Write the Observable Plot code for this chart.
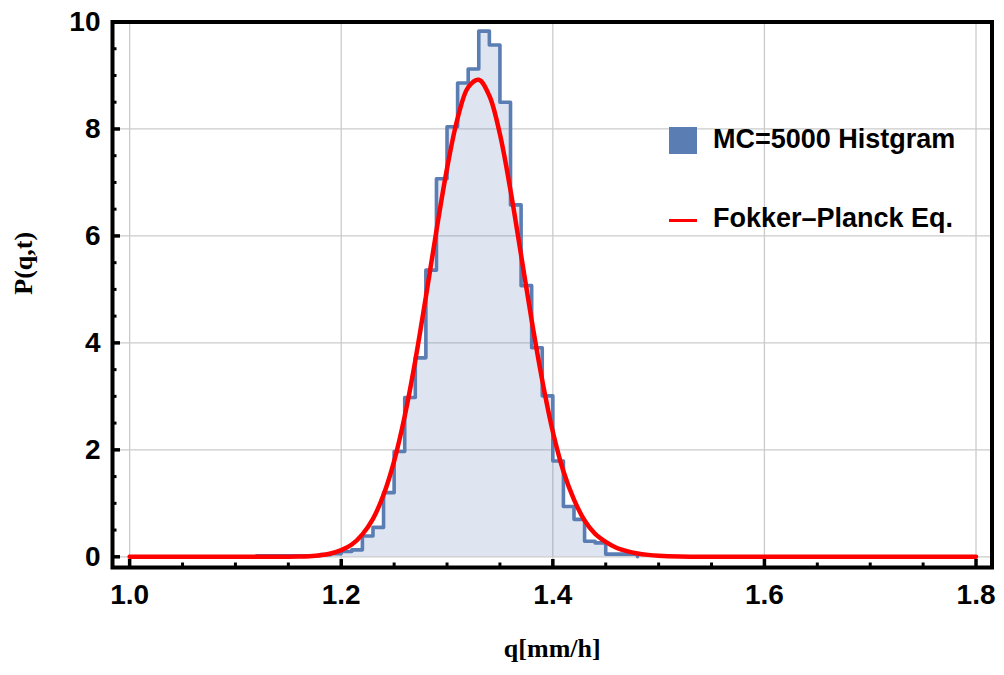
<!DOCTYPE html>
<html>
<head>
<meta charset="utf-8">
<script src="https://cdn.jsdelivr.net/npm/d3@7"></script>
<script src="https://cdn.jsdelivr.net/npm/@observablehq/plot@0.6"></script>
<style>
html, body { margin: 0; padding: 0; background: #fff; }
#wrap { position: relative; width: 1004px; height: 675px; }
.leg { position: absolute; font-family: "Liberation Sans", Arial, sans-serif; font-weight: bold; font-size: 27px; color: #000; white-space: nowrap; line-height: 1; }
.sw { position: absolute; }
</style>
</head>
<body>
<div id="wrap"></div>
<script>
// Histogram (MC=5000), bin edges and densities
const binEdges = [1.12,1.13,1.14,1.15,1.16,1.17,1.18,1.19,1.20,1.21,1.22,1.23,1.24,1.25,1.26,1.27,1.28,1.29,1.30,
  1.31,1.32,1.33,1.34,1.35,1.36,1.37,1.38,1.39,1.40,1.41,1.42,1.43,1.44,1.45,1.46,1.47,1.48];
const binDensity = [0.02,0.02,0.02,0.02,0.02,0.02,0.04,0.06,0.10,0.13,0.39,0.55,1.20,1.97,2.98,3.72,5.36,7.07,
  8.04,8.86,9.12,9.83,9.57,8.50,6.58,5.07,3.91,3.01,1.79,0.94,0.70,0.29,0.26,0.05,0.05,0.05];

// Fokker-Planck curve
const curveQ = [1.00,1.05,1.10,1.13,1.15,1.16,1.17,1.18,1.19,1.20,1.21,1.22,1.23,1.24,1.25,1.26,1.27,1.28,1.29,1.30,
  1.31,1.32,1.33,1.34,1.35,1.36,1.37,1.38,1.39,1.40,1.41,1.42,1.43,1.44,1.45,1.46,1.47,1.48,1.49,1.50,1.52,1.55,1.60,1.70,1.80];
const curveP = [0,0,0,0.0005,0.002,0.005,0.012,0.028,0.062,0.125,0.23,0.42,0.71,1.16,1.79,2.63,3.67,4.86,6.10,7.26,
  8.20,8.78,8.92,8.62,7.90,6.85,5.64,4.42,3.30,2.34,1.60,1.07,0.68,0.43,0.28,0.17,0.105,0.062,0.036,0.02,0.006,0.001,0,0,0];

// Ticks
const xTicks = [1.0,1.2,1.4,1.6,1.8];
const xMinor = [1.05,1.10,1.15,1.25,1.30,1.35,1.45,1.50,1.55,1.65,1.70,1.75];
const yTicks = [0,2,4,6,8,10];
const yMinor = [0.5,1,1.5,2.5,3,3.5,4.5,5,5.5,6.5,7,7.5,8.5,9,9.5];

const xLabel = "q[mm/h]";
const yLabel = "P(q,t)";
const legendHist = "MC=5000 Histgram";
const legendCurve = "Fokker\u2013Planck Eq.";

// Build tables
const steps = [{q: binEdges[0], p: 0}];
binDensity.forEach((p, i) => steps.push({q: binEdges[i], p}));
steps.push({q: binEdges[binEdges.length - 1], p: 0});
const curve = curveQ.map((q, i) => ({q, p: curveP[i]}));

const histBlue = "#5a7db4";
const serif = "Liberation Serif, Times New Roman, serif";

const chart = Plot.plot({
  width: 1004,
  height: 675,
  marginLeft: 112,
  marginRight: 12.5,
  marginTop: 21.5,
  marginBottom: 108,
  style: {fontFamily: "Liberation Sans, Arial, sans-serif", background: "#fff"},
  x: {domain: [0.9838, 1.8151]},
  y: {domain: [-0.2, 10.0]},
  marks: [
    Plot.gridX(xTicks, {stroke: "#cbcbcb", strokeOpacity: 1, strokeWidth: 1.3}),
    Plot.gridY(yTicks, {stroke: "#cbcbcb", strokeOpacity: 1, strokeWidth: 1.3}),
    Plot.areaY(steps, {x: "q", y: "p", curve: "step-after", fill: histBlue, fillOpacity: 0.2}),
    Plot.lineY(steps, {x: "q", y: "p", curve: "step-after", stroke: histBlue, strokeWidth: 3.6}),
    Plot.line(curve, {x: "q", y: "p", curve: "catmull-rom", stroke: "#ff0000", strokeWidth: 4.5}),
    Plot.frame({stroke: "#000", strokeWidth: 4}),
    Plot.axisX(xTicks, {tickSize: 0, tickPadding: 17, fontSize: 28, fontWeight: "bold", tickFormat: d => d.toFixed(1), label: null}),
    Plot.axisX(xTicks, {tickSize: -8, strokeWidth: 3.5, fill: "none", label: null}),
    Plot.axisX(xMinor, {tickSize: -4.5, strokeWidth: 3, fill: "none", label: null}),
    Plot.axisY(yTicks, {tickSize: 0, tickPadding: 12, fontSize: 28, fontWeight: "bold", tickFormat: d => String(d), label: null}),
    Plot.axisY(yTicks, {tickSize: -8, strokeWidth: 3.5, fill: "none", label: null}),
    Plot.axisY(yMinor, {tickSize: -4.5, strokeWidth: 3, fill: "none", label: null}),
    Plot.text([yLabel], {frameAnchor: "left", dx: -89, rotate: -90, fontFamily: serif, fontWeight: "bold", fontSize: 26, fill: "#000"}),
    Plot.text([xLabel], {frameAnchor: "bottom", dy: 89, fontFamily: serif, fontWeight: "bold", fontSize: 26, fill: "#000"})
  ]
});

const wrap = document.getElementById("wrap");
wrap.appendChild(chart);

// Legend inside plot
function add(html) { const d = document.createElement("div"); d.innerHTML = html; wrap.appendChild(d.firstChild); }
add(`<div class="sw" style="left:669px;top:126.5px;width:28px;height:27px;background:${histBlue}"></div>`);
add(`<div class="leg" style="left:713px;top:126px">${legendHist}</div>`);
add(`<div class="sw" style="left:669px;top:218.5px;width:28px;height:3.5px;background:#ff0000"></div>`);
add(`<div class="leg" style="left:713px;top:205px">${legendCurve}</div>`);
</script>
</body>
</html>
